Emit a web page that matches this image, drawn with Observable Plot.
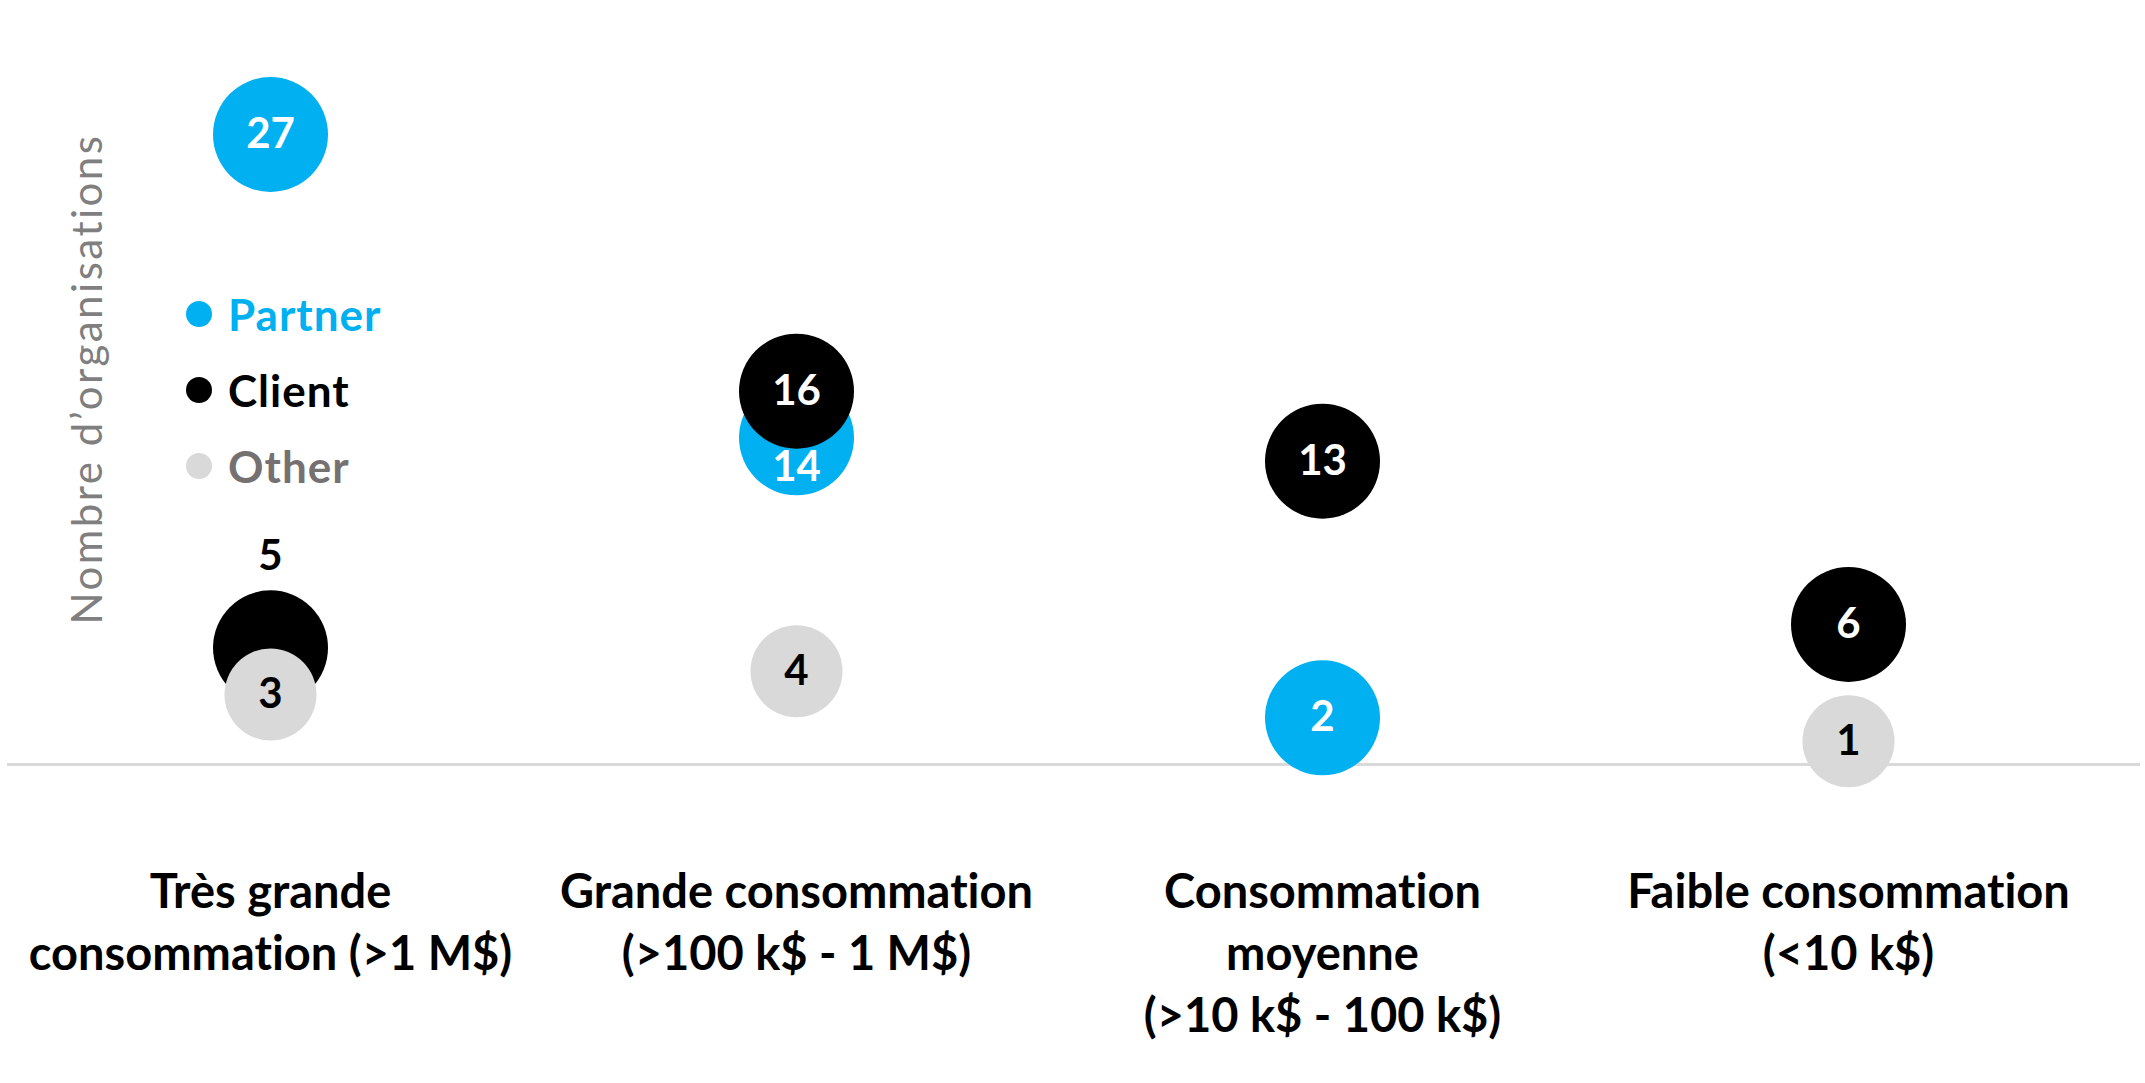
<!DOCTYPE html>
<html>
<head>
<meta charset="utf-8">
<script src="https://cdn.jsdelivr.net/npm/d3@7"></script>
<script src="https://cdn.jsdelivr.net/npm/@observablehq/plot@0.6"></script>
<style>
  html, body { margin: 0; padding: 0; background: #fff; }
  #wrap { position: relative; width: 2145px; height: 1083px; font-family: Lato, "Open Sans", sans-serif;
          font-variant-ligatures: none; }
  svg text { font-variant-ligatures: none; }
  #ytitle { position: absolute; left: 86px; top: 379px; transform: translate(-50%, -50%) rotate(-90deg);
            white-space: nowrap; font-size: 42px; color: #7f7f7f; letter-spacing: 2.5px; font-weight: 400; }
  #legend { position: absolute; left: 186px; top: 276px; }
  .row { display: flex; align-items: center; height: 76px; line-height: 76px; }
  .dot { width: 26px; height: 26px; border-radius: 50%; margin-right: 16px; }
  .lab { font-size: 44px; font-weight: 700; letter-spacing: 1px; }
</style>
</head>
<body>
<div id="wrap">
  <div id="chart"></div>
  <div id="ytitle"></div>
  <div id="legend"></div>
</div>
<script>
// ---- data ----
const categories = [
  "Très grande\nconsommation (>1 M$)",
  "Grande consommation\n(>100 k$ - 1 M$)",
  "Consommation\nmoyenne\n(>10 k$ - 100 k$)",
  "Faible consommation\n(<10 k$)"
];
const seriesNames = ["Partner", "Client", "Other"];
const partner = [27, 14, 2, null];
const client = [5, 16, 13, 6];
const other = [3, 4, null, 1];
const yTitle = "Nombre d’organisations";

// ---- styles ----
const seriesColors = ["#00B0F0", "#000000", "#D9D9D9"];
const legendTextColors = ["#00B0F0", "#000000", "#767171"];
const labelColors = ["#FFFFFF", "#FFFFFF", "#000000"];
const radii = [57.5, 57.5, 46];
const xRange = [270, 1848];
const yDomain = [0, 27];
const yRange = [764, 134];

const seriesValues = [partner, client, other];
const rows = [];
seriesValues.forEach((vals, s) => {
  vals.forEach((v, i) => {
    if (v != null) rows.push({cat: categories[i], idx: i, value: v, s, series: seriesNames[s]});
  });
});

// label placement: avoid labels hidden under bubbles drawn later
const ypx = d3.scaleLinear(yDomain, yRange);
rows.forEach(d => {
  d.dy = 0;
  d.fill = labelColors[d.s];
  rows.filter(t => t.idx === d.idx && t.s > d.s).forEach(t => {
    const dist = ypx(t.value) - ypx(d.value);
    if (Math.abs(dist) < radii[t.s] + 16) {
      if (dist > 0) { // covering bubble below -> label above own bubble
        d.dy = -(radii[d.s] + 34);
        d.fill = "#000000";
      } else { // covering bubble above -> label just below it
        d.dy = Math.round(radii[t.s] + dist + 19);
      }
    }
  });
});

const labelMarks = Array.from(d3.group(rows, d => d.dy), ([dy, grp]) =>
  Plot.text(grp, {x: "cat", y: "value", text: d => String(d.value), fill: "fill",
                  dy, fontSize: 42, fontWeight: 700}));

const chart = Plot.plot({
  width: 2145,
  height: 1083,
  marginLeft: 7,
  marginRight: 5,
  marginTop: 0,
  marginBottom: 0,
  style: {fontFamily: "Lato, 'Open Sans', sans-serif", background: "#fff"},
  x: {type: "point", domain: categories, range: xRange, padding: 0, axis: null},
  y: {domain: yDomain, range: yRange, axis: null},
  color: {type: "identity"},
  marks: [
    Plot.ruleY([0], {stroke: "#D9D9D9", strokeWidth: 3}),
    ...seriesNames.map((name, s) =>
      Plot.dot(rows.filter(d => d.s === s), {x: "cat", y: "value", r: radii[s], fill: seriesColors[s]})),
    ...labelMarks,
    Plot.text(categories, {x: d => d, y: () => 0, text: d => d, lineAnchor: "top", dy: 99,
                           lineHeight: 1.32, fontSize: 47, fontWeight: 700, fill: "#000"})
  ]
});
document.getElementById("chart").appendChild(chart);

document.getElementById("ytitle").textContent = yTitle;
const legend = document.getElementById("legend");
seriesNames.forEach((name, s) => {
  const row = document.createElement("div");
  row.className = "row";
  const dot = document.createElement("div");
  dot.className = "dot";
  dot.style.background = seriesColors[s];
  const lab = document.createElement("span");
  lab.className = "lab";
  lab.style.color = legendTextColors[s];
  lab.textContent = name;
  row.appendChild(dot);
  row.appendChild(lab);
  legend.appendChild(row);
});
</script>
</body>
</html>
